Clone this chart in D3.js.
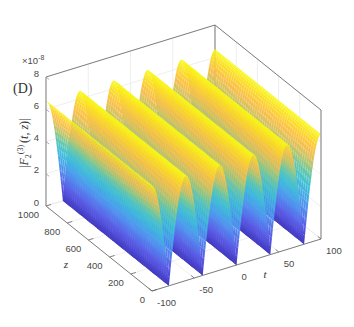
<!DOCTYPE html>
<html>
<head>
<meta charset="utf-8">
<script src="https://cdn.jsdelivr.net/npm/d3@7"></script>
<style>
  html, body { margin: 0; padding: 0; background: #fff; }
  svg { display: block; }
  text { font-family: "Liberation Sans", Arial, sans-serif; font-size: 9.5px; fill: #4a4a4a; }
  text.serif { font-family: "Liberation Serif", "Times New Roman", serif; fill: #333; }
</style>
</head>
<body>
<div id="chart"></div>
<script>
const width = 354
const height = 327

const tTicks = [-100, -50, 0, 50, 100]
const zTicks = [0, 200, 400, 600, 800, 1000]
const vTicks = [0, 2, 4, 6, 8]

// sample positions of the surface
const tValues = d3.range(-100, 101)
const zValues = d3.range(0, 1001, 20)

// |F| read along t, same for every z (units of 1e-8)
const falling = [6.5, 6.48, 6.42, 6.32, 6.18, 6.01, 5.79, 5.54, 5.26, 4.94, 4.6, 4.22, 3.82, 3.4, 2.95, 2.49, 2.01, 1.52, 1.02, 0.51]
const rising = [0, 0.51, 1.02, 1.52, 2.01, 2.49, 2.95, 3.4, 3.82, 4.22, 4.6, 4.94, 5.26, 5.54, 5.79, 6.01, 6.18, 6.32, 6.42, 6.48]
const amplitude = [
  ...falling, ...rising, ...falling, ...rising, ...falling,
  ...rising, ...falling, ...rising, ...falling, ...rising, 6.5
]

// colours as they look in the picture (mesh lines over white make parula paler)
const colorStops = [0, 0.98, 2.21, 3.25, 4.03, 4.55, 5.07, 5.53, 6.18, 6.5]
const colorValues = ['#4038c0', '#5a5ae6', '#5096f0', '#3cbedc', '#5ac8b4', '#a0c878', '#e4c058', '#fbbf48', '#fbe020', '#f8f815']

const tScale = d3.scaleLinear().domain([-100, 100]).range([0, 1])
const zScale = d3.scaleLinear().domain([0, 1000]).range([1, 0])
const vScale = d3.scaleLinear().domain([0, 8]).range([0, 129])
const colorScale = d3.scaleLinear().domain(colorStops).range(colorValues)

// oblique projection of the MATLAB box
const project = (t, z, v) => [
  46 + 169 * tScale(t) + 106 * zScale(z),
  206 - 52 * tScale(t) + 85 * zScale(z) - vScale(v)
]

const svg = d3.select('#chart').append('svg').attr('width', width).attr('height', height)

const line3d = (a, b, color, w) => {
  const p = project(...a)
  const q = project(...b)
  svg.append('line')
    .attr('x1', p[0]).attr('y1', p[1]).attr('x2', q[0]).attr('y2', q[1])
    .attr('stroke', color).attr('stroke-width', w)
}

// grid on floor and back walls
const gridColor = '#e6e6e6'
tTicks.forEach((t) => {
  line3d([t, 0, 0], [t, 1000, 0], gridColor, 0.7)
  line3d([t, 1000, 0], [t, 1000, 8], gridColor, 0.7)
})
zTicks.forEach((z) => {
  line3d([-100, z, 0], [100, z, 0], gridColor, 0.7)
  line3d([100, z, 0], [100, z, 8], gridColor, 0.7)
})
vTicks.forEach((v) => {
  line3d([-100, 1000, v], [100, 1000, v], gridColor, 0.7)
  line3d([100, 1000, v], [100, 0, v], gridColor, 0.7)
})

// back box edges
const boxColor = '#7f7f7f'
line3d([-100, 1000, 8], [100, 1000, 8], boxColor, 1)
line3d([100, 1000, 8], [100, 0, 8], boxColor, 1)
line3d([100, 1000, 0], [100, 1000, 8], boxColor, 1)

// one gradient per t column, running across the z direction of the screen
const zDir = [106, 85]
const zLen = Math.hypot(zDir[0], zDir[1])
const normal = [-zDir[1] / zLen, zDir[0] / zLen]
const defs = svg.append('defs')
d3.range(tValues.length - 1).forEach((i) => {
  const p0 = project(tValues[i], 0, amplitude[i])
  const p1 = project(tValues[i + 1], 0, amplitude[i + 1])
  const d = (p1[0] - p0[0]) * normal[0] + (p1[1] - p0[1]) * normal[1]
  const g = defs.append('linearGradient')
    .attr('id', 'col' + i)
    .attr('gradientUnits', 'userSpaceOnUse')
    .attr('x1', p0[0]).attr('y1', p0[1])
    .attr('x2', p0[0] + normal[0] * d).attr('y2', p0[1] + normal[1] * d)
  g.append('stop').attr('offset', 0).attr('stop-color', colorScale(amplitude[i]))
  g.append('stop').attr('offset', 1).attr('stop-color', colorScale(amplitude[i + 1]))
})

// surface cells, far ones first
const cells = []
for (let i = tValues.length - 2; i >= 0; i--) {
  for (let j = zValues.length - 2; j >= 0; j--) {
    cells.push({ i, j })
  }
}
const cellPath = ({ i, j }) => {
  const pts = [
    project(tValues[i], zValues[j], amplitude[i]),
    project(tValues[i + 1], zValues[j], amplitude[i + 1]),
    project(tValues[i + 1], zValues[j + 1], amplitude[i + 1]),
    project(tValues[i], zValues[j + 1], amplitude[i])
  ]
  return 'M' + pts.map((p) => p[0].toFixed(2) + ',' + p[1].toFixed(2)).join('L') + 'Z'
}
svg.append('g').selectAll('path')
  .data(cells)
  .join('path')
  .attr('d', cellPath)
  .attr('fill', (d) => `url(#col${d.i})`)

// front axes and remaining edges
line3d([-100, 1000, 0], [-100, 1000, 8], boxColor, 1)
line3d([-100, 1000, 0], [-100, 0, 0], boxColor, 1)
line3d([-100, 0, 0], [100, 0, 0], boxColor, 1)
line3d([100, 0, 0], [100, 0, 8], boxColor, 1)

tTicks.forEach((t) => line3d([t, 0, 0], [t, 30, 0], '#666', 0.8))
zTicks.forEach((z) => line3d([-100, z, 0], [-94, z, 0], '#666', 0.8))
vTicks.forEach((v) => line3d([-100, 1000, v], [-100, 970, v], '#999', 0.8))

const label = (x, y, s, anchor) =>
  svg.append('text').attr('x', x).attr('y', y).attr('text-anchor', anchor).text(s)

vTicks.forEach((v) => {
  const p = project(-100, 1000, v)
  label(p[0] - 7, p[1] - 0.5, v, 'end')
})
zTicks.forEach((z) => {
  const p = project(-100, z, 0)
  label(p[0] - 7, p[1] + 12, z, 'end')
})
tTicks.forEach((t) => {
  const p = project(t, 0, 0)
  label(p[0] + 5, p[1] + 14.5, t, 'start')
})

// exponent
const expo = svg.append('text').attr('x', 22).attr('y', 64)
expo.append('tspan').text('×10')
expo.append('tspan').attr('dy', -4).style('font-size', '7px').text('-8')

svg.append('text').attr('class', 'serif').attr('x', 13).attr('y', 93)
  .style('font-size', '14px').text('(D)')

svg.append('text').attr('class', 'serif').attr('x', 66).attr('y', 268)
  .attr('font-style', 'italic').attr('text-anchor', 'middle').style('font-size', '11px').text('z')
svg.append('text').attr('class', 'serif').attr('x', 265).attr('y', 278)
  .attr('font-style', 'italic').attr('text-anchor', 'middle').style('font-size', '11px').text('t')

// rotated y label
const yLabel = svg.append('text').attr('class', 'serif')
  .attr('transform', 'translate(28,168) rotate(-90)')
  .style('font-size', '12px')
yLabel.append('tspan').text('|')
yLabel.append('tspan').attr('font-style', 'italic').text('F')
yLabel.append('tspan').style('font-size', '8px').attr('dy', 3).text('2')
yLabel.append('tspan').style('font-size', '8px').attr('dy', -8).text('(3)')
yLabel.append('tspan').attr('dy', 5).attr('dx', 2).text('(')
yLabel.append('tspan').attr('font-style', 'italic').text('t, z')
yLabel.append('tspan').text(')|')
</script>
</body>
</html>
